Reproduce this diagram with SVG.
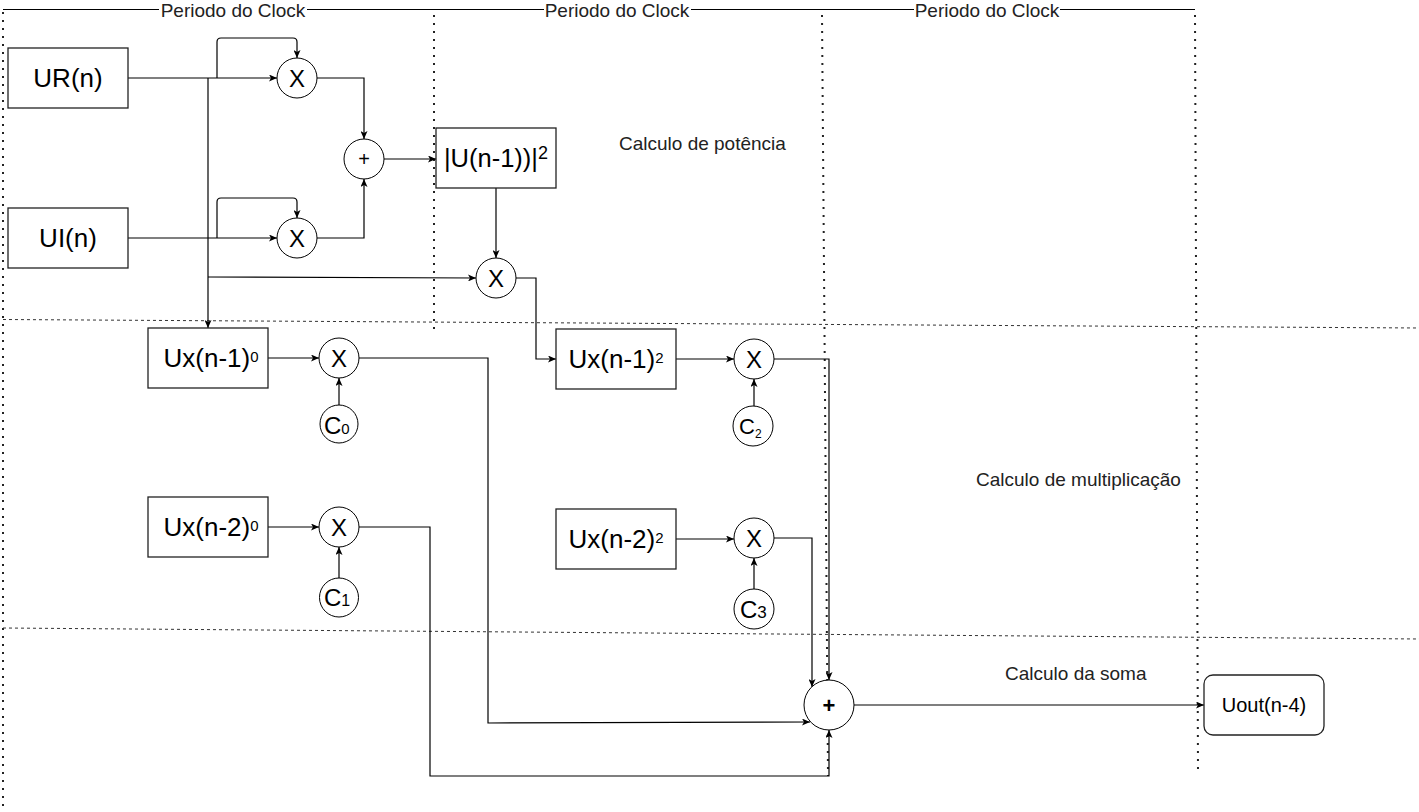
<svg xmlns="http://www.w3.org/2000/svg" width="1419" height="812" viewBox="0 0 1419 812">
<defs>
<marker id="arr" viewBox="0 0 8 7" refX="8" refY="3.5" markerWidth="8" markerHeight="7" markerUnits="userSpaceOnUse" orient="auto">
<path d="M0,0 L8,3.5 L0,7 L2,3.5 Z" fill="#000"/>
</marker>
<style>
.box{fill:#fff;stroke:#222;stroke-width:1.3}
.circ{fill:#fff;stroke:#000;stroke-width:1}
.conn{fill:none;stroke:#000;stroke-width:1.2;marker-end:url(#arr)}
.lnk{fill:none;stroke:#000;stroke-width:1.2}
.dot{stroke:#222;stroke-width:2;stroke-dasharray:2 6;fill:none}
.dash{stroke:#333;stroke-width:1;stroke-dasharray:3 3;fill:none}
.t{font-family:"Liberation Sans",Arial,sans-serif;fill:#000}
.lbl{font-family:"Liberation Sans",Arial,sans-serif;fill:#222;font-size:19px}
.nt{font-size:26px;text-anchor:middle}
.xt{font-size:24px;text-anchor:middle}
</style>
</defs>
<rect width="1419" height="812" fill="#fff"/>

<g id="grid">
<line class="dot" x1="3" y1="12" x2="3" y2="812"/>
<line class="dot" x1="434" y1="15" x2="434" y2="330"/>
<line class="dot" x1="822" y1="15" x2="828" y2="776"/>
<line class="dot" x1="1195" y1="15" x2="1198" y2="770"/>
<line class="dash" x1="3" y1="319.5" x2="1419" y2="328"/>
<line class="dash" x1="3" y1="628" x2="1419" y2="639"/>
<path class="lnk" d="M3,9.5 H159 M307,9.5 H544 M691,9.5 H914 M1060,9.5 H1195"/>
<text class="lbl" x="233" y="17" text-anchor="middle">Periodo do Clock</text>
<text class="lbl" x="617" y="17" text-anchor="middle">Periodo do Clock</text>
<text class="lbl" x="987" y="17" text-anchor="middle">Periodo do Clock</text>
<text class="lbl" x="619" y="150">Calculo de potência</text>
<text class="lbl" x="976" y="486">Calculo de multiplicação</text>
<text class="lbl" x="1005" y="680">Calculo da soma</text>
</g>

<g id="connectors">
<path class="conn" d="M128,78 H277"/>
<path class="conn" d="M217,78 V42 Q217,38 221,38 H293 Q297,38 297,42 V58"/>
<path class="conn" d="M208,78 V328"/>
<path class="conn" d="M208,277 L476,278"/>
<path class="conn" d="M128,238 H277"/>
<path class="conn" d="M217,238 V202 Q217,198 221,198 H293 Q297,198 297,202 V218"/>
<path class="conn" d="M317,78 H364 V139"/>
<path class="conn" d="M317,238 H364 V179"/>
<path class="conn" d="M384,159 H436"/>
<path class="conn" d="M496,188 V258"/>
<path class="conn" d="M516,278 H536 V359 H556"/>
<path class="conn" d="M268,358 H319"/>
<path class="conn" d="M339,405 V378"/>
<path class="conn" d="M359,358 H488 V723 L810,722"/>
<path class="conn" d="M268,527 H319"/>
<path class="conn" d="M339,578 V547"/>
<path class="conn" d="M359,527 H430 V776 H829 V730"/>
<path class="conn" d="M676,359 H734"/>
<path class="conn" d="M754,406 V379"/>
<path class="conn" d="M774,359 H829 V680"/>
<path class="conn" d="M676,539 H734"/>
<path class="conn" d="M754,589 V558"/>
<path class="conn" d="M774,538 H812 V687"/>
<path class="conn" d="M854,705 H1204"/>
</g>

<g id="UR">
<rect class="box" x="8" y="48" width="120" height="60"/>
<text class="t nt" x="68" y="87">UR(n)</text>
</g>
<g id="UI">
<rect class="box" x="8" y="208" width="120" height="60"/>
<text class="t nt" x="68" y="247">UI(n)</text>
</g>
<g id="mulR">
<circle class="circ" cx="297" cy="78" r="20"/>
<text class="t xt" x="297" y="87">X</text>
</g>
<g id="mulI">
<circle class="circ" cx="297" cy="238" r="20"/>
<text class="t xt" x="297" y="247">X</text>
</g>
<g id="add1">
<circle class="circ" cx="364" cy="159" r="20"/>
<text class="t" x="364" y="166" font-size="20" text-anchor="middle">+</text>
</g>
<g id="mag">
<rect class="box" x="436" y="128" width="120" height="60"/>
<text class="t" x="496" y="167" font-size="25.5" text-anchor="middle">|U(n-1))|<tspan font-size="18" dy="-8">2</tspan></text>
</g>
<g id="mulP">
<circle class="circ" cx="496" cy="278" r="20"/>
<text class="t xt" x="496" y="287">X</text>
</g>
<g id="ux1_0">
<rect class="box" x="148" y="328" width="120" height="60"/>
<text class="t nt" x="211" y="367">Ux(n-1)<tspan font-size="15" dy="-5">0</tspan></text>
</g>
<g id="mul0">
<circle class="circ" cx="339" cy="358" r="20"/>
<text class="t xt" x="339" y="367">X</text>
</g>
<g id="c0">
<circle class="circ" cx="339" cy="424" r="19"/>
<text class="t" x="324" y="434" font-size="24">C<tspan font-size="15">0</tspan></text>
</g>
<g id="ux2_0">
<rect class="box" x="148" y="497" width="120" height="60"/>
<text class="t nt" x="211" y="536">Ux(n-2)<tspan font-size="15" dy="-5">0</tspan></text>
</g>
<g id="mul1">
<circle class="circ" cx="339" cy="527" r="20"/>
<text class="t xt" x="339" y="536">X</text>
</g>
<g id="c1">
<circle class="circ" cx="339" cy="597.5" r="19.5"/>
<text class="t" x="324" y="606" font-size="24">C<tspan font-size="16">1</tspan></text>
</g>
<g id="ux1_2">
<rect class="box" x="556" y="329" width="120" height="60"/>
<text class="t nt" x="616" y="368">Ux(n-1)<tspan font-size="15" dy="-5">2</tspan></text>
</g>
<g id="mul2">
<circle class="circ" cx="754" cy="359" r="20"/>
<text class="t xt" x="754" y="368">X</text>
</g>
<g id="c2">
<circle class="circ" cx="753" cy="426" r="20"/>
<text class="t" x="739" y="434" font-size="22">C<tspan font-size="12" dy="4">2</tspan></text>
</g>
<g id="ux2_2">
<rect class="box" x="556" y="509" width="120" height="60"/>
<text class="t nt" x="616" y="548">Ux(n-2)<tspan font-size="15" dy="-5">2</tspan></text>
</g>
<g id="mul3">
<circle class="circ" cx="754" cy="538" r="20"/>
<text class="t xt" x="754" y="547">X</text>
</g>
<g id="c3">
<circle class="circ" cx="754" cy="609" r="20"/>
<text class="t" x="740" y="618" font-size="24">C<tspan font-size="17">3</tspan></text>
</g>
<g id="sum">
<circle class="circ" cx="829" cy="705" r="25"/>
<text class="t" x="829" y="713" font-size="22" font-weight="bold" text-anchor="middle">+</text>
</g>
<g id="uout">
<rect class="box" x="1204" y="675" width="120" height="60" rx="9"/>
<text class="t" x="1264" y="712" font-size="20" text-anchor="middle">Uout(n-4)</text>
</g>
</svg>
